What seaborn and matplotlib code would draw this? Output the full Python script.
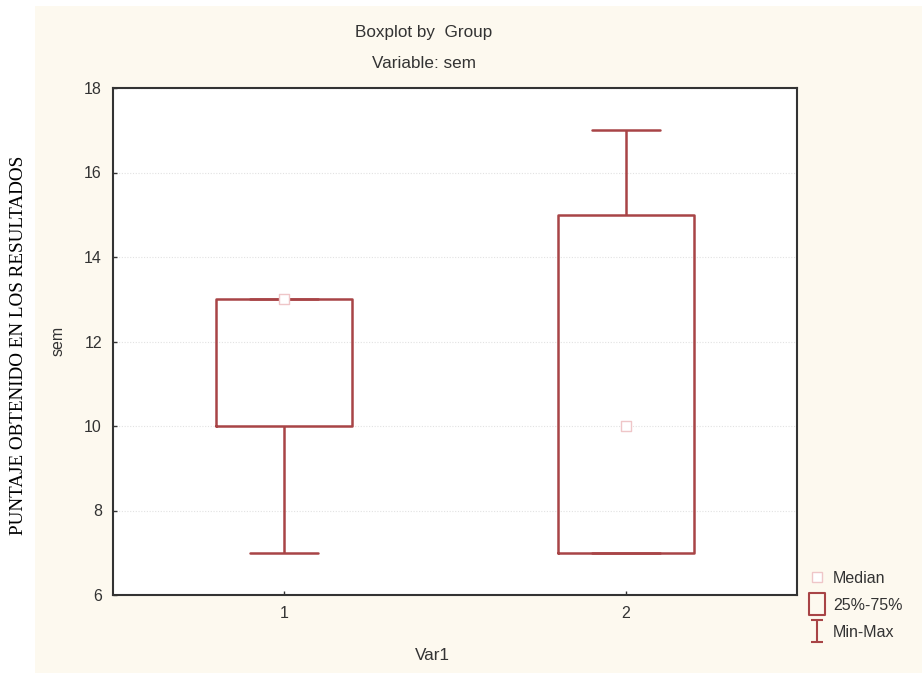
import matplotlib
matplotlib.use("Agg")
import matplotlib.pyplot as plt
import seaborn as sns
import pandas as pd
from matplotlib.patches import Rectangle
from matplotlib.lines import Line2D
from matplotlib.path import Path

# ---- data ----
groups = ["1", "2"]
group1_values = [7, 10, 13, 13, 13]   # min 7, Q1 10, median 13, Q3 13, max 13
group2_values = [7, 7, 10, 15, 17]    # min 7, Q1 7, median 10, Q3 15, max 17
medians = [13, 10]
y_ticks = [6, 8, 10, 12, 14, 16, 18]

df = pd.DataFrame({
    "Var1": [groups[0]] * len(group1_values) + [groups[1]] * len(group2_values),
    "sem": group1_values + group2_values,
})

sns.set_theme(style="white")
plt.rcParams["font.family"] = ["Liberation Sans", "DejaVu Sans"]

W, H = 922, 673
fig = plt.figure(figsize=(W / 100, H / 100), dpi=100)
fig.patch.set_facecolor("white")

# cream panel
fig.patches.append(Rectangle((35 / W, 0), 1 - 35 / W, (H - 6) / H,
                             transform=fig.transFigure, facecolor="#FDF9EF",
                             edgecolor="none", zorder=-10))

ax = fig.add_axes([113 / W, (H - 595) / H, 684 / W, 507 / H])
ax.set_facecolor("white")

box_color = "#A84446"
sns.boxplot(data=df, x="Var1", y="sem", order=groups, ax=ax, whis=(0, 100),
            width=0.4, fill=False, color=box_color, linewidth=1.8,
            medianprops=dict(linewidth=0, alpha=0), showfliers=False)

sns.scatterplot(x=groups, y=medians, ax=ax, marker="s", s=45,
                color="white", edgecolor="#EFC6C8", linewidth=1, zorder=10)

ax.set_xlim(-0.5, 1.5)
ax.set_ylim(6, 18)
ax.set_yticks(y_ticks)
ax.yaxis.grid(True, linestyle=(0, (1, 1.5)), color="#E2E2E2", linewidth=0.8)
ax.xaxis.grid(False)
ax.set_axisbelow(True)
for s in ax.spines.values():
    s.set_color("#333333")
    s.set_linewidth(1.5)
    s.set_visible(True)
ax.tick_params(axis="both", direction="in", length=3, width=1, color="#333333",
               labelsize=11.5, labelcolor="#333333", pad=8)
ax.tick_params(axis="y", left=True)
ax.tick_params(axis="x", bottom=True)
ax.set_xlabel("")
ax.set_ylabel("")

fs = 11.5
tfs = 12.3
# labels / titles
fig.text(424 / W, 1 - 32 / H, "Boxplot by  Group", ha="center", va="center",
         fontsize=tfs, color="#333333")
fig.text(424 / W, 1 - 64 / H, "Variable: sem", ha="center", va="center",
         fontsize=tfs, color="#333333")
fig.text(58 / W, 1 - 341 / H, "sem", rotation=90, ha="center", va="center",
         fontsize=fs, color="#333333")
fig.text(432 / W, 1 - 655 / H, "Var1", ha="center", va="center",
         fontsize=tfs, color="#333333")
fig.text(19 / W, 1 - 345 / H, "PUNTAJE OBTENIDO EN LOS RESULTADOS", rotation=90,
         ha="center", va="center", fontsize=13.8, color="black",
         family=["Liberation Serif", "DejaVu Serif"])

# legend
i_path = Path([(-0.5, 1), (0.5, 1), (0, 1), (0, -1), (-0.5, -1), (0.5, -1)],
              [Path.MOVETO, Path.LINETO, Path.MOVETO, Path.LINETO, Path.MOVETO, Path.LINETO])
box_path = Path([(-0.35, -0.5), (0.35, -0.5), (0.35, 0.5), (-0.35, 0.5), (-0.35, -0.5)],
                [Path.MOVETO, Path.LINETO, Path.LINETO, Path.LINETO, Path.CLOSEPOLY])
handles = [
    Line2D([], [], marker="s", linestyle="none", markersize=7,
           markerfacecolor="white", markeredgecolor="#EFC6C8"),
    Line2D([], [], marker=box_path, linestyle="none", markersize=16,
           markerfacecolor="none", markeredgecolor=box_color, markeredgewidth=1.5),
    Line2D([], [], marker=i_path, linestyle="none", markersize=16,
           markeredgecolor=box_color, markeredgewidth=1.5),
]
fig.legend(handles, ["Median", "25%-75%", "Min-Max"], loc="upper left",
           bbox_to_anchor=(809 / W, 1 - 571 / H), frameon=False, fontsize=fs,
           handlelength=1.0, handletextpad=0.5, labelspacing=0.75,
           labelcolor="#333333", borderaxespad=0, borderpad=0)

fig.savefig("out.png", dpi=100, facecolor="white")
